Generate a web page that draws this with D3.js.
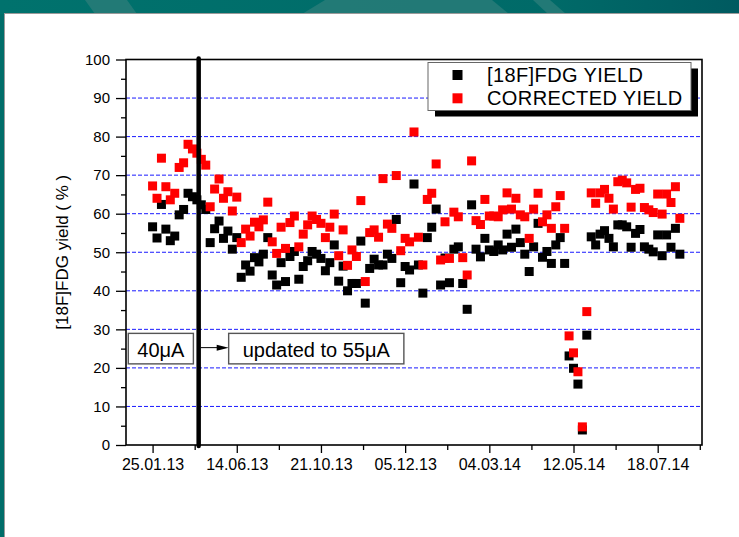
<!DOCTYPE html>
<html><head><meta charset="utf-8">
<script src="https://cdn.jsdelivr.net/npm/d3@7"></script>
<style>
html,body{margin:0;padding:0;background:#fff;overflow:hidden}
svg{display:block;font-family:"Liberation Sans",Arial,sans-serif}
</style></head><body>
<svg id="c" width="739" height="537"></svg>
<script>
// ---- data ----
const yieldValues = [
56.6,53.7,62.4,56.0,53.0,54.2,59.7,61.1,65.3,64.4,
63.6,62.3,61.1,52.5,56.1,58.1,53.6,55.5,50.8,53.8,
43.5,46.7,45.1,48.6,47.5,49.5,53.8,44.1,41.5,47.3,
42.4,48.9,50.2,43.0,46.3,47.8,50.2,49.5,48.4,45.2,
47.3,51.9,42.5,46.4,40.0,41.9,41.9,52.9,36.8,45.8,
48.2,46.7,46.7,49.5,48.4,58.5,42.1,46.3,45.4,67.7,
46.7,39.4,53.8,56.5,61.2,41.5,48.5,42.1,50.8,51.4,
41.9,35.2,62.3,50.8,48.8,53.6,50.6,50.2,51.9,50.6,
54.7,51.3,56.0,52.5,49.5,45.0,51.4,57.5,48.7,50.2,
47.1,51.9,53.8,47.1,23.1,19.9,15.8,3.9,28.5,54.0,
51.9,54.7,55.6,53.6,51.4,57.1,57.1,56.6,51.3,54.9,
55.9,51.4,50.8,50.1,54.5,49.1,54.5,51.3,56.2,49.5];
const correctedValues = [
67.2,64.0,74.4,67.0,63.6,65.3,72.0,73.2,78.0,76.8,
75.7,74.1,72.6,61.8,66.4,69.0,64.0,65.7,60.7,64.3,
52.5,56.0,54.2,57.8,56.6,58.4,63.0,52.7,49.7,56.5,
51.0,57.7,59.4,51.4,54.7,57.1,59.4,58.5,57.5,53.8,
56.5,59.9,49.1,55.8,46.6,50.6,48.9,63.4,42.4,55.1,
55.8,53.9,69.1,57.3,56.2,69.9,50.4,53.6,52.7,81.2,
53.9,46.7,63.7,65.3,72.9,48.0,57.9,48.4,60.4,59.2,
48.6,44.1,73.7,58.2,57.2,63.7,59.4,59.4,59.2,61.0,
65.4,61.2,64.0,59.7,59.2,53.6,61.2,65.3,57.9,59.7,
56.2,61.8,64.7,56.2,28.3,23.9,19.0,4.7,34.6,65.4,
62.7,65.4,66.3,64.0,61.2,68.3,68.7,68.0,61.7,66.3,
66.6,61.6,61.0,60.3,65.1,59.9,65.1,62.9,67.0,58.8];
const sampleIndex = yieldValues.map((d, i) => i);
const xTickSamples = [0, 19, 38, 57, 76, 95, 114];
const xTickLabels = ["25.01.13", "14.06.13", "21.10.13", "05.12.13", "04.03.14", "12.05.14", "18.07.14"];
const xMinorSamples = [9.5, 28.5, 47.5, 66.5, 85.5, 104.5, 123.5];
const yTickValues = [0, 10, 20, 30, 40, 50, 60, 70, 80, 90, 100];
const yMinorValues = [5, 15, 25, 35, 45, 55, 65, 75, 85, 95];
const gridValues = [10, 20, 30, 40, 50, 60, 70, 80, 90];
const seriesNames = ["[18F]FDG YIELD", "CORRECTED YIELD"];
const seriesColors = ["#000000", "#ff0000"];
const upgradeSample = 10.4;
const beforeLabel = "40\u03bcA";
const afterLabel = "updated to 55\u03bcA";
const annotationLevel = 25;
const yAxisTitle = "[18F]FDG yield ( % )";

// ---- layout ----
const W = 739, H = 537;
const plot = {left: 126, right: 702, top: 59.5, bottom: 445};
const svg = d3.select("#c");

// slide frame
svg.append("rect").attr("x", 0).attr("y", 0).attr("width", W).attr("height", H).attr("fill", "#006d69");
const tg = svg.append("defs").append("linearGradient").attr("id", "tg").attr("x1", 0).attr("x2", 1);
tg.append("stop").attr("offset", 0).attr("stop-color", "#00726d");
tg.append("stop").attr("offset", 0.75).attr("stop-color", "#006a68");
tg.append("stop").attr("offset", 1).attr("stop-color", "#005a60");
svg.append("rect").attr("x", 0).attr("y", 0).attr("width", W).attr("height", 14).attr("fill", "url(#tg)");
const bands = [[[85,0],[127,0],[137,14],[95,14]], [[325,0],[492,0],[509,14],[302,14]], [[533,0],[550,0],[566,14],[548,14]]];
bands.forEach(b => svg.append("polygon").attr("points", b.map(p => p.join(",")).join(" ")).attr("fill", "#2a7d79").attr("opacity", 0.8));
svg.append("rect").attr("x", 4.5).attr("y", 13.5).attr("width", W).attr("height", H).attr("fill", "#fff").attr("stroke", "#9a9a9a").attr("stroke-width", 1);

const x = d3.scaleLinear().domain([-6, 124]).range([plot.left, plot.right]);
const y = d3.scaleLinear().domain([0, 100]).range([plot.bottom, plot.top]);

// grid
svg.append("g").selectAll("line").data(gridValues).join("line")
  .attr("x1", plot.left).attr("x2", plot.right)
  .attr("y1", d => y(d)).attr("y2", d => y(d))
  .attr("stroke", "#1a1aff").attr("stroke-width", 1).attr("stroke-dasharray", "4,2");

// axes
const yAxis = svg.append("g").attr("transform", `translate(${plot.left},0)`)
  .call(d3.axisLeft(y).tickValues(yTickValues).tickSize(10).tickPadding(6).tickFormat(d3.format("d")));
svg.append("g").attr("transform", `translate(${plot.left},0)`)
  .call(d3.axisLeft(y).tickValues(yMinorValues).tickSize(5).tickFormat(""));
const xAxis = svg.append("g").attr("transform", `translate(0,${plot.bottom})`)
  .call(d3.axisBottom(x).tickValues(xTickSamples).tickSize(8).tickPadding(6).tickFormat((d, i) => xTickLabels[i]));
svg.append("g").attr("transform", `translate(0,${plot.bottom})`)
  .call(d3.axisBottom(x).tickValues(xMinorSamples).tickSize(5).tickFormat(""));
svg.selectAll(".domain").remove();
svg.selectAll(".tick line").attr("stroke", "#000").attr("stroke-width", 1.3);
yAxis.selectAll("text").attr("font-size", 15).attr("fill", "#000").attr("font-family", "Liberation Sans, Arial, sans-serif");
xAxis.selectAll("text").attr("font-size", 16).attr("fill", "#000").attr("font-family", "Liberation Sans, Arial, sans-serif");

// axis box
svg.append("rect").attr("x", plot.left).attr("y", plot.top)
  .attr("width", plot.right - plot.left).attr("height", plot.bottom - plot.top)
  .attr("fill", "none").attr("stroke", "#000").attr("stroke-width", 1.6);

// y title
svg.append("text").attr("transform", `translate(68,${(plot.top + plot.bottom) / 2}) rotate(-90)`)
  .attr("text-anchor", "middle").attr("font-size", 17).text(yAxisTitle);

// points
const sz = 9;
[yieldValues, correctedValues].forEach((vals, k) => {
  svg.append("g").selectAll("rect").data(sampleIndex).join("rect")
    .attr("x", i => x(i) - sz / 2).attr("y", i => y(vals[i]) - sz / 2)
    .attr("width", sz).attr("height", sz).attr("fill", seriesColors[k]);
});

// upgrade line
svg.append("line").attr("x1", x(upgradeSample)).attr("x2", x(upgradeSample))
  .attr("y1", y(100) - 1).attr("y2", y(0) + 1)
  .attr("stroke", "#000").attr("stroke-width", 4.5).attr("stroke-linecap", "round");

// annotations
function labelBox(textStr, cx, cy, padX, anchorLeft) {
  const g = svg.append("g");
  const t = g.append("text").attr("font-size", 20).attr("dominant-baseline", "central").text(textStr);
  const w = t.node().getComputedTextLength();
  const bw = w + 2 * padX, bh = 30.5;
  const left = anchorLeft ? cx : cx - bw / 2;
  g.insert("rect", "text").attr("x", left).attr("y", cy - bh / 2).attr("width", bw).attr("height", bh)
    .attr("fill", "#fff").attr("stroke", "#555").attr("stroke-width", 1.4);
  t.attr("x", left + padX).attr("y", cy + 1);
}
const ay = y(annotationLevel);
labelBox(beforeLabel, (plot.left + x(upgradeSample)) / 2 - 1.5, ay, 9, false);
const arrowStart = x(upgradeSample) + 2, arrowEnd = arrowStart + 28;
svg.append("line").attr("x1", arrowStart).attr("x2", arrowEnd - 10).attr("y1", ay - 1).attr("y2", ay - 1).attr("stroke", "#000").attr("stroke-width", 1);
svg.append("path").attr("d", `M${arrowEnd},${ay - 1} L${arrowEnd - 12},${ay - 4} L${arrowEnd - 12},${ay + 2} Z`).attr("fill", "#000");
labelBox(afterLabel, arrowEnd, ay, 14, true);

// legend
const lg = {x: 428, y: 62.5, w: 263, h: 48};
svg.append("rect").attr("x", lg.x + 7).attr("y", lg.y + 6).attr("width", lg.w).attr("height", lg.h).attr("fill", "#000");
svg.append("rect").attr("x", lg.x).attr("y", lg.y).attr("width", lg.w).attr("height", lg.h)
  .attr("fill", "#fff").attr("stroke", "#666").attr("stroke-width", 1);
seriesNames.forEach((name, k) => {
  const cy = lg.y + 12.5 + k * 23.3;
  svg.append("rect").attr("x", lg.x + 24.5).attr("y", cy - 5).attr("width", 10).attr("height", 10).attr("fill", seriesColors[k]);
  svg.append("text").attr("x", lg.x + 59).attr("y", cy + 7).attr("font-size", 20).attr("letter-spacing", 0.4).text(name);
});
</script>
</body></html>
